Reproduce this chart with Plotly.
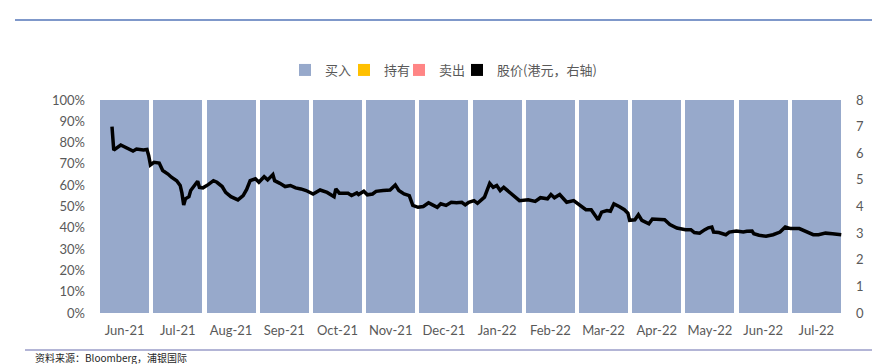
import plotly.graph_objects as go

months = ["Jun-21", "Jul-21", "Aug-21", "Sep-21", "Oct-21", "Nov-21", "Dec-21",
          "Jan-22", "Feb-22", "Mar-22", "Apr-22", "May-22", "Jun-22", "Jul-22"]
buy = [1.0] * 14
hold = [0.0] * 14
sell = [0.0] * 14

price_dates = [
    "2021-06-09", "2021-06-10", "2021-06-14", "2021-06-17", "2021-06-21", "2021-06-23",
    "2021-06-27", "2021-06-29", "2021-06-30", "2021-07-01", "2021-07-03", "2021-07-06",
    "2021-07-08", "2021-07-11", "2021-07-13", "2021-07-16", "2021-07-18", "2021-07-19",
    "2021-07-20", "2021-07-21", "2021-07-23", "2021-07-24", "2021-07-26", "2021-07-28",
    "2021-07-29", "2021-07-31", "2021-08-03", "2021-08-06", "2021-08-08", "2021-08-11",
    "2021-08-13", "2021-08-16", "2021-08-20", "2021-08-23", "2021-08-25", "2021-08-27",
    "2021-08-30", "2021-09-01", "2021-09-04", "2021-09-06", "2021-09-09", "2021-09-10",
    "2021-09-13", "2021-09-16", "2021-09-19", "2021-09-22", "2021-09-25", "2021-09-28",
    "2021-10-02", "2021-10-06", "2021-10-10", "2021-10-14", "2021-10-15", "2021-10-17",
    "2021-10-22", "2021-10-24", "2021-10-27", "2021-10-28", "2021-10-31", "2021-11-02",
    "2021-11-05", "2021-11-07", "2021-11-11", "2021-11-15", "2021-11-18", "2021-11-20",
    "2021-11-23", "2021-11-26", "2021-11-28", "2021-12-01", "2021-12-04", "2021-12-07",
    "2021-12-09", "2021-12-12", "2021-12-14", "2021-12-17", "2021-12-20", "2021-12-23",
    "2021-12-26", "2021-12-28", "2021-12-30", "2022-01-02", "2022-01-04", "2022-01-08",
    "2022-01-11", "2022-01-13", "2022-01-15", "2022-01-17", "2022-01-19", "2022-01-21",
    "2022-01-25", "2022-01-28", "2022-02-02", "2022-02-06", "2022-02-09", "2022-02-13",
    "2022-02-15", "2022-02-17", "2022-02-20", "2022-02-24", "2022-02-28", "2022-03-03",
    "2022-03-07", "2022-03-10", "2022-03-14", "2022-03-16", "2022-03-19", "2022-03-21",
    "2022-03-23", "2022-03-26", "2022-03-29", "2022-03-31", "2022-04-01", "2022-04-04",
    "2022-04-06", "2022-04-08", "2022-04-12", "2022-04-14", "2022-04-18", "2022-04-21",
    "2022-04-24", "2022-04-28", "2022-05-03", "2022-05-06", "2022-05-08", "2022-05-11",
    "2022-05-14", "2022-05-16", "2022-05-18", "2022-05-19", "2022-05-22", "2022-05-26",
    "2022-05-28", "2022-06-01", "2022-06-05", "2022-06-07", "2022-06-10", "2022-06-11",
    "2022-06-14", "2022-06-18", "2022-06-22", "2022-06-26", "2022-06-29", "2022-07-02",
    "2022-07-07", "2022-07-11", "2022-07-15", "2022-07-18", "2022-07-22", "2022-07-26",
    "2022-07-29", "2022-07-31",
]
price_values = [
    7.00, 6.12, 6.31, 6.22, 6.08, 6.16,
    6.12, 6.14, 5.91, 5.56, 5.66, 5.63,
    5.35, 5.22, 5.10, 4.97, 4.79, 4.50,
    4.06, 4.29, 4.37, 4.60, 4.79, 4.95,
    4.72, 4.70, 4.82, 4.97, 4.91, 4.75,
    4.53, 4.37, 4.25, 4.41, 4.64, 4.97,
    5.04, 4.91, 5.12, 5.00, 5.20, 4.97,
    4.87, 4.75, 4.79, 4.70, 4.66, 4.60,
    4.47, 4.62, 4.53, 4.37, 4.66, 4.50,
    4.50, 4.41, 4.51, 4.45, 4.57, 4.44,
    4.47, 4.57, 4.60, 4.62, 4.81, 4.60,
    4.47, 4.41, 4.04, 3.97, 4.00, 4.14,
    4.07, 3.97, 4.10, 4.04, 4.16, 4.14,
    4.16, 4.06, 4.16, 4.22, 4.12, 4.35,
    4.87, 4.72, 4.79, 4.60, 4.72, 4.60,
    4.37, 4.22, 4.25, 4.19, 4.33, 4.29,
    4.45, 4.33, 4.45, 4.16, 4.22, 4.06,
    3.88, 3.88, 3.50, 3.79, 3.85, 3.82,
    4.10, 4.00, 3.88, 3.75, 3.48, 3.50,
    3.69, 3.48, 3.35, 3.53, 3.50, 3.50,
    3.32, 3.19, 3.13, 3.13, 3.02, 3.00,
    3.13, 3.20, 3.23, 3.04, 3.02, 2.94,
    3.04, 3.08, 3.04, 3.07, 3.08, 2.98,
    2.92, 2.88, 2.94, 3.04, 3.23, 3.17,
    3.17, 3.07, 2.94, 2.94, 3.00, 2.98,
    2.94, 2.94,
]

left_ticks = [0, 0.1, 0.2, 0.3, 0.4, 0.5, 0.6, 0.7, 0.8, 0.9, 1.0]
right_ticks = [0, 1, 2, 3, 4, 5, 6, 7, 8]

BUY_C = "#97A9CB"
HOLD_C = "#FFC000"
SELL_C = "#FF8585"
TICK_FONT = dict(family="Lato, Liberation Sans, sans-serif", size=13, color="#595959")
LEG_FONT = dict(family="Noto Sans CJK SC", size=13, color="#595959")

# the page has an 8px body margin: figure drawn at (8, 8)
W, H = 872, 356
ML, MR, MT, MB = 90, 37, 92, 51
PW, PH = W - ML - MR, H - MT - MB


def px_x(x):  # figure px -> paper x
    return (x - ML) / PW


def px_y(y):  # figure px -> paper y
    return 1 - (y - MT) / PH


def legend_at(x_px):
    return dict(orientation="h", xref="container", yref="container",
                x=x_px / W, y=1 - 62 / H, xanchor="left", yanchor="middle",
                font=LEG_FONT, itemwidth=30, bgcolor="rgba(0,0,0,0)")


fig = go.Figure()
fig.add_trace(go.Bar(x=months, y=buy, name="买入", legend="legend",
                     marker=dict(color=BUY_C, line=dict(width=0))))
fig.add_trace(go.Bar(x=months, y=hold, name="持有", legend="legend2",
                     marker=dict(color=HOLD_C, line=dict(width=0))))
fig.add_trace(go.Bar(x=months, y=sell, name="卖出", legend="legend3",
                     marker=dict(color=SELL_C, line=dict(width=0))))
# legend swatch for the price line (square, as in the reference)
fig.add_trace(go.Bar(x=months[:1], y=[0], name="股价(港元，右轴)", legend="legend4",
                     marker=dict(color="#000000", line=dict(width=0)), hoverinfo="skip"))
fig.add_trace(go.Scatter(x=price_dates, y=price_values, name="股价(港元，右轴)", mode="lines",
                         line=dict(color="#000000", width=3.5), xaxis="x2", yaxis="y2",
                         showlegend=False))

fig.update_layout(
    width=W, height=H,
    margin=dict(l=ML, r=MR, t=MT, b=MB, autoexpand=False),
    paper_bgcolor="white", plot_bgcolor="white",
    barmode="stack", bargap=0.08,
    showlegend=True,
    legend=legend_at(277),
    legend2=legend_at(336),
    legend3=legend_at(391),
    legend4=legend_at(449),
    xaxis=dict(type="category", showgrid=False, zeroline=False, showline=False,
               ticks="", tickfont=TICK_FONT, ticklabelstandoff=8, automargin=False),
    xaxis2=dict(type="date", overlaying="x", range=["2021-06-01", "2022-08-01"],
                visible=False, showgrid=False, automargin=False),
    yaxis=dict(range=[0, 1], tickvals=left_ticks, tickformat=".0%", showgrid=False,
               zeroline=False, showline=False, ticks="", tickfont=TICK_FONT,
               ticklabelstandoff=12, automargin=False),
    yaxis2=dict(range=[0, 8], tickvals=right_ticks, overlaying="y", side="right",
                showgrid=False, zeroline=False, showline=False, ticks="",
                tickfont=TICK_FONT, ticklabelstandoff=12, automargin=False),
    shapes=[
        dict(type="line", xref="paper", yref="paper", x0=px_x(7), x1=px_x(W),
             y0=px_y(12), y1=px_y(12), line=dict(color="#7F98CA", width=2)),
        dict(type="line", xref="paper", yref="paper", x0=px_x(17), x1=px_x(W),
             y0=px_y(342), y1=px_y(342), line=dict(color="#9A9DC9", width=1.5)),
    ],
    annotations=[
        dict(text="资料来源：Bloomberg，浦银国际", xref="paper", yref="paper",
             x=px_x(25), y=px_y(349), xanchor="left", yanchor="middle", showarrow=False,
             font=dict(family="Noto Sans CJK SC", size=10, color="#262626")),
    ],
)

fig.write_html("out.html")
